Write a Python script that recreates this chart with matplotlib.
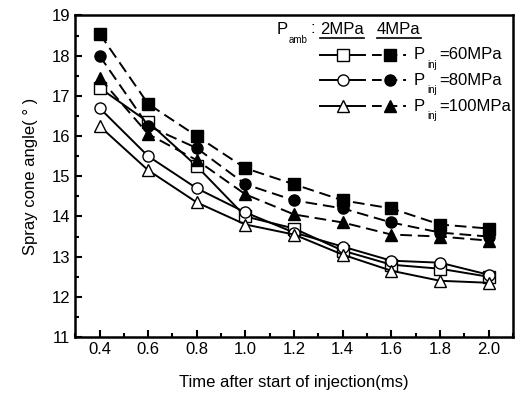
import matplotlib.pyplot as plt
from matplotlib.ticker import MultipleLocator

plt.rcParams['font.family'] = ['Liberation Sans', 'DejaVu Sans']

time_ms = [0.4, 0.6, 0.8, 1.0, 1.2, 1.4, 1.6, 1.8, 2.0]

# ambient pressure 2 MPa (open markers, solid)
p60_2mpa = [17.2, 16.35, 15.25, 14.0, 13.7, 13.15, 12.8, 12.7, 12.5]
p80_2mpa = [16.7, 15.5, 14.7, 14.1, 13.6, 13.25, 12.9, 12.85, 12.55]
p100_2mpa = [16.25, 15.15, 14.35, 13.8, 13.55, 13.05, 12.65, 12.4, 12.35]

# ambient pressure 4 MPa (filled markers, dashed)
p60_4mpa = [18.55, 16.8, 16.0, 15.2, 14.8, 14.4, 14.2, 13.8, 13.7]
p80_4mpa = [18.0, 16.25, 15.7, 14.8, 14.4, 14.2, 13.85, 13.6, 13.5]
p100_4mpa = [17.45, 16.05, 15.4, 14.55, 14.05, 13.85, 13.55, 13.5, 13.4]

inj_labels = ['=60MPa', '=80MPa', '=100MPa']
markers = ['s', 'o', '^']

fig = plt.figure(figsize=(5.15, 3.97), dpi=100)
ax = fig.add_axes([0.146, 0.151, 0.85, 0.81])

ms = 8
for vals, m in zip([p60_2mpa, p80_2mpa, p100_2mpa], markers):
    ax.plot(time_ms, vals, color='black', lw=1.4, marker=m, ms=ms,
            mfc='white', mec='black', mew=1.0)
for vals, m in zip([p60_4mpa, p80_4mpa, p100_4mpa], markers):
    ax.plot(time_ms, vals, color='black', lw=1.4, ls=(0, (6, 3)), marker=m,
            ms=ms, mfc='black', mec='black')

ax.set_xlim(0.3, 2.1)
ax.set_ylim(11, 19)
ax.xaxis.set_minor_locator(MultipleLocator(0.1))
ax.yaxis.set_major_locator(MultipleLocator(1))
ax.yaxis.set_minor_locator(MultipleLocator(0.5))
ax.set_xticks(time_ms)
ax.set_xticklabels([f'{t:.1f}' for t in time_ms])
ax.tick_params(which='both', direction='in', labelsize=12)
ax.tick_params(which='major', length=5, width=1.5)
ax.tick_params(which='minor', length=3, width=1.5)
for s in ax.spines.values():
    s.set_linewidth(1.8)

ax.set_xlabel('Time after start of injection(ms)', fontsize=12, labelpad=13)
ax.set_ylabel('Spray cone angle( ° )', fontsize=12, labelpad=10)

# hand-made legend, positions given in figure pixels
tr = ax.transAxes
def ax_xy(px, py):
    return (px - 75) / 438, (337 - py) / 321.5

def put(px, py, s, size=12):
    x, y = ax_xy(px, py)
    ax.text(x, y, s, transform=tr, fontsize=size, ha='left', va='center')

put(277, 30, 'P')
put(289, 40, 'amb', 7)
put(310, 29, ':')
for lab, xs, xe in [('2MPa', 320, 364), ('4MPa', 377, 421)]:
    put(xs, 30, lab)
    ux1, uy = ax_xy(xs, 38)
    ux2, _ = ax_xy(xe, 38)
    ax.plot([ux1, ux2], [uy, uy], color='black', lw=1.2, transform=tr, clip_on=False)

for i, (m, lab) in enumerate(zip(markers, inj_labels)):
    py = 55 + i * 25.5
    a1, yy = ax_xy(320, py)
    a2, _ = ax_xy(365, py)
    am, _ = ax_xy(343, py)
    b1, _ = ax_xy(372, py)
    b2, _ = ax_xy(406, py)
    bm, _ = ax_xy(390, py)
    ax.plot([a1, a2], [yy, yy], color='black', lw=1.4, transform=tr, clip_on=False)
    ax.plot([am], [yy], marker=m, ms=ms, mfc='white', mec='black',
            mew=1.0, transform=tr, clip_on=False)
    ax.plot([b1, b2], [yy, yy], color='black', lw=1.4, ls=(0, (5, 3)),
            transform=tr, clip_on=False)
    ax.plot([bm], [yy], marker=m, ms=ms, mfc='black',
            mec='black', transform=tr, clip_on=False)
    put(414, py, 'P')
    put(427, py + 10, 'inj', 7)
    put(439, py, lab)

fig.savefig('out.png', dpi=100)
